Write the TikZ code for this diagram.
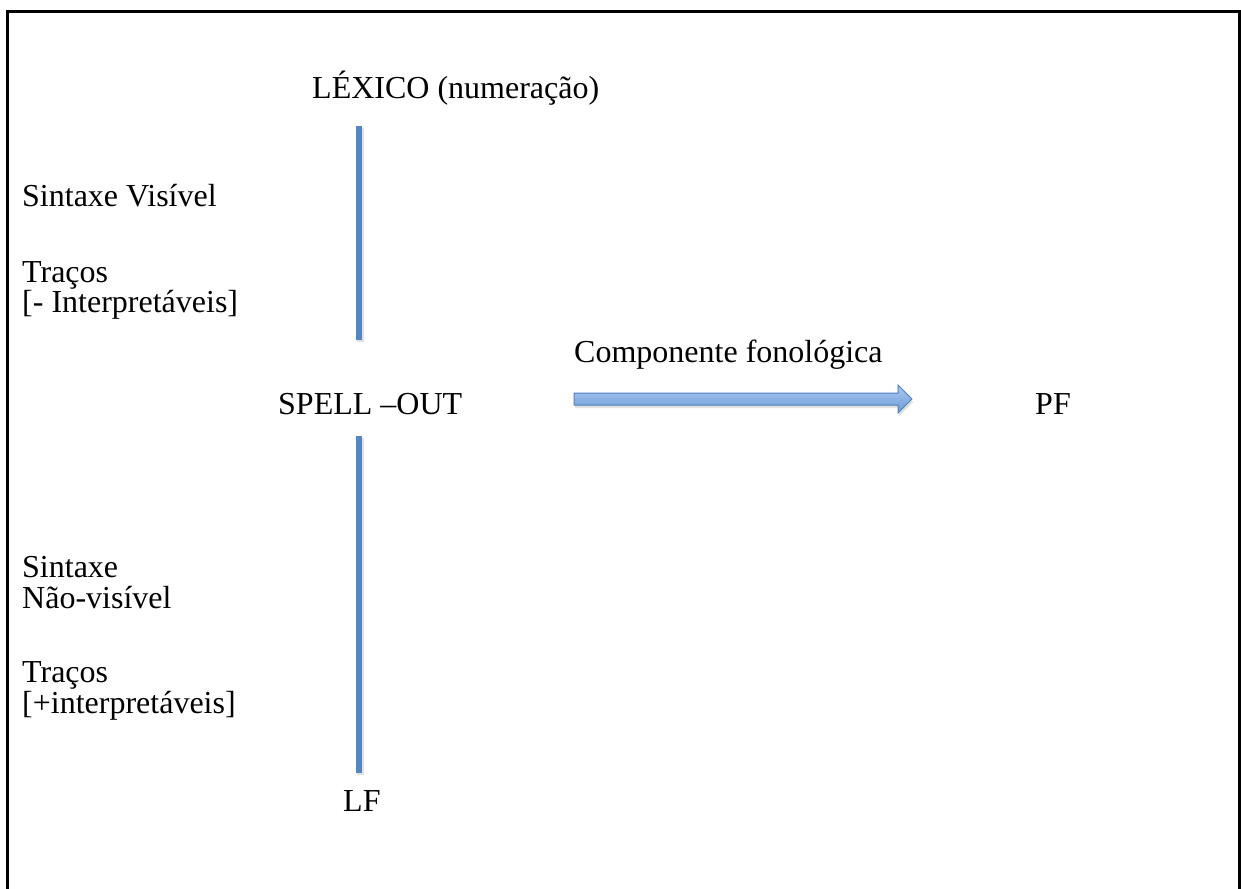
\documentclass[tikz,border=0pt]{standalone}
\usepackage{fontspec}
\setmainfont{Liberation Serif}
\definecolor{linecol}{RGB}{84,134,196}
\definecolor{arrtop}{RGB}{170,200,240}
\definecolor{arrbot}{RGB}{110,155,215}
\definecolor{arredge}{RGB}{80,128,190}
\begin{document}
\begin{tikzpicture}[x=1pt,y=-1pt,
  lbl/.style={anchor=base west,inner sep=0pt,font=\fontsize{32}{31}\selectfont},
  vline/.style={draw=linecol,line width=6pt},
  vshadow/.style={draw=black!12,line width=7pt},
]
\useasboundingbox (0,0) rectangle (1241,888);
\clip (0,0) rectangle (1241,888);
\draw[line width=3pt] (7.5,900) -- (7.5,12) -- (1239.5,12) -- (1239.5,900);

\node[lbl] (lex) at (312,99) {LÉXICO (numeração)};
\node[lbl] (sv) at (22,206) {Sintaxe Visível};
\node[lbl] (tr1) at (22,282) {Traços};
\node[lbl] (int1) at (22,312) {[- Interpretáveis]};
\node[lbl] (comp) at (574,362) {Componente fonológica};
\node[lbl] (spell) at (278,414) {SPELL –OUT};
\node[lbl] (pf) at (1035,414) {PF};
\node[lbl] (snv1) at (22,577) {Sintaxe};
\node[lbl] (snv2) at (22,608) {Não-visível};
\node[lbl] (tr2) at (22,682) {Traços};
\node[lbl] (int2) at (22,713) {[+interpretáveis]};
\node[lbl] (lf) at (343,811) {LF};

\coordinate (a1) at (359,126);
\coordinate (a2) at (359,340);
\coordinate (b1) at (359,436);
\coordinate (b2) at (359,773);
\draw[vshadow] ([xshift=1pt,yshift=-2pt]a1) -- ([xshift=1pt,yshift=-2pt]a2);
\draw[vshadow] ([xshift=1pt,yshift=-2pt]b1) -- ([xshift=1pt,yshift=-2pt]b2);
\draw[vline] (a1) -- (a2);
\draw[vline] (b1) -- (b2);

% block arrow
\fill[black!12] (575,397) -- (899,397) -- (899,389) -- (913,402) -- (899,416) -- (899,408) -- (575,408) -- cycle;
\path[top color=arrtop,bottom color=arrbot,draw=arredge,line width=1pt]
  (574,393) -- (898,393) -- (898,385) -- (912,399) -- (898,413) -- (898,405) -- (574,405) -- cycle;
\end{tikzpicture}
\end{document}
